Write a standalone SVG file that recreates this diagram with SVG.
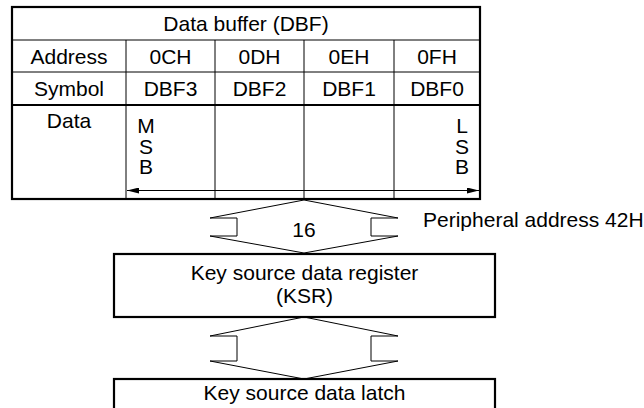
<svg xmlns="http://www.w3.org/2000/svg" width="644" height="408" viewBox="0 0 644 408">
<style>
  text { font-family: "Liberation Sans", Arial, sans-serif; font-size: 21px; fill: #000; }
  .c { text-anchor: middle; }
  .thin { stroke: #000; stroke-width: 1; fill: none; }
  .thick { stroke: #000; stroke-width: 2.2; fill: none; }
  .bus { stroke: #000; stroke-width: 1; fill: #fff; }
</style>
<defs>
  <marker id="ah" viewBox="0 0 12 6" refX="12" refY="3" markerWidth="12" markerHeight="6" markerUnits="userSpaceOnUse" orient="auto-start-reverse">
    <path d="M0,0 L12,3 L0,6 Z" fill="#000"/>
  </marker>
</defs>
<rect width="644" height="408" fill="#fff"/>

<g id="dbf">
  <line class="thin" x1="12" y1="40" x2="480" y2="40"/>
  <line class="thin" x1="12" y1="72" x2="480" y2="72"/>
  <line class="thick" x1="12" y1="105" x2="480" y2="105"/>
  <line class="thin" x1="126" y1="40" x2="126" y2="199"/>
  <line class="thin" x1="215" y1="40" x2="215" y2="199"/>
  <line class="thin" x1="304" y1="40" x2="304" y2="199"/>
  <line class="thin" x1="394" y1="40" x2="394" y2="199"/>
  <rect class="thick" x="12" y="7" width="468" height="192"/>
  <text class="c" x="246" y="31">Data buffer (DBF)</text>
  <text class="c" x="69" y="64">Address</text>
  <text class="c" x="170.5" y="64">0CH</text>
  <text class="c" x="259.5" y="64">0DH</text>
  <text class="c" x="349" y="64">0EH</text>
  <text class="c" x="437" y="64">0FH</text>
  <text class="c" x="69" y="96">Symbol</text>
  <text class="c" x="170.5" y="96">DBF3</text>
  <text class="c" x="259.5" y="96">DBF2</text>
  <text class="c" x="349" y="96">DBF1</text>
  <text class="c" x="437" y="96">DBF0</text>
  <text class="c" x="69" y="128">Data</text>
  <text class="c"><tspan x="146" y="133">M</tspan><tspan x="146" y="154">S</tspan><tspan x="146" y="174">B</tspan></text>
  <text class="c"><tspan x="462" y="133">L</tspan><tspan x="462" y="154">S</tspan><tspan x="462" y="174">B</tspan></text>
  <line class="thin" x1="127" y1="190.5" x2="479" y2="190.5" marker-start="url(#ah)" marker-end="url(#ah)"/>
</g>

<g id="connectors">
  <polygon class="bus" points="304,200 398,218 371,218 371,236 398,236 304,253 210,236 237,236 237,218 210,218"/>
  <polygon class="bus" points="304,317 398,336 371,336 371,361 398,361 304,379 210,361 237,361 237,336 210,336"/>
  <text class="c" x="304" y="237">16</text>
  <text x="423" y="227">Peripheral address 42H</text>
</g>

<g id="ksr">
  <rect class="thick" x="114" y="254" width="381" height="63" fill="#fff"/>
  <text class="c" x="304.5" y="280">Key source data register</text>
  <text class="c" x="304.5" y="303">(KSR)</text>
</g>

<g id="latch">
  <rect class="thick" x="114" y="379" width="381" height="40" fill="#fff"/>
  <text class="c" x="304.5" y="400">Key source data latch</text>
</g>
</svg>
